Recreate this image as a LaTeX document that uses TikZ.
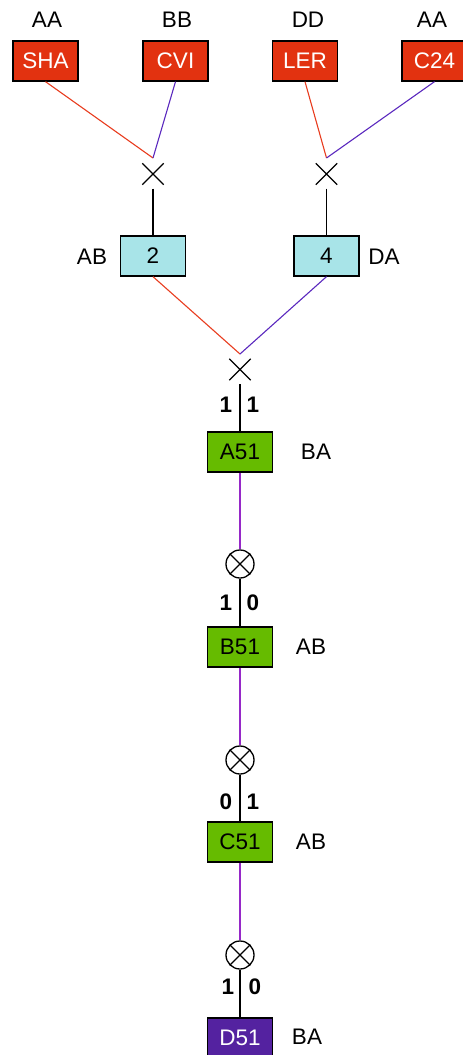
\documentclass[tikz,border=0pt]{standalone}
\usepackage{fontspec}
\setmainfont{Liberation Sans}
\definecolor{boxred}{RGB}{226,50,16}
\definecolor{boxcyan}{RGB}{168,228,232}
\definecolor{boxgreen}{RGB}{102,187,0}
\definecolor{boxpurple}{RGB}{84,34,160}
\definecolor{linered}{RGB}{232,60,30}
\definecolor{lineviolet}{RGB}{90,40,190}
\definecolor{linemag}{RGB}{150,40,200}
\begin{document}
\begin{tikzpicture}[x=1pt,y=-1pt,
  every node/.style={font=\fontsize{22.5}{26}\selectfont, inner sep=0pt},
  box/.style={draw=black, line width=1.3pt, minimum width=65pt, minimum height=40pt},
  redbox/.style={box, fill=boxred, text=white},
  cyanbox/.style={box, fill=boxcyan},
  greenbox/.style={box, fill=boxgreen},
  purplebox/.style={box, fill=boxpurple, text=white},
  lbl/.style={},
  num/.style={font=\fontsize{22.5}{26}\selectfont\bfseries},
  cross/.style={minimum size=21pt},
  otimes/.style={circle, draw, line width=1.3pt, minimum size=28pt},
  xmark/.style={draw=black, line width=1.4pt},
  rline/.style={draw=linered, line width=1.1pt},
  vline/.style={draw=lineviolet, line width=1.1pt},
  mline/.style={draw=linemag, line width=1.1pt},
  kline/.style={draw=black, line width=1.1pt}]
\useasboundingbox (0,0) rectangle (463,1055);
\clip (0,0) rectangle (463,1055);

% top boxes
\node[redbox] (sha) at (45.5,61) {SHA};
\node[redbox] (cvi) at (175.5,61) {CVI};
\node[redbox] (ler) at (305,61) {LER};
\node[redbox] (c24) at (434.5,61) {C24};
\node[lbl] (lsha) at (47,20) {AA};
\node[lbl] (lcvi) at (177,20) {BB};
\node[lbl] (ller) at (308,20) {DD};
\node[lbl] (lc24) at (432,20) {AA};

% first junctions
\coordinate (j1) at (153,158);
\coordinate (j2) at (326.5,158);
\node[cross] (x1) at (153,174) {};
\node[cross] (x2) at (326.5,174) {};
\foreach \n in {x1,x2} {
  \draw[xmark] (\n.north west) -- (\n.south east) (\n.north east) -- (\n.south west);
}
\draw[rline] (sha.south) -- (j1);
\draw[vline] (cvi.south) -- (j1);
\draw[rline] (ler.south) -- (j2);
\draw[vline] (c24.south) -- (j2);

% cyan boxes
\node[cyanbox] (b2) at (153,256) {2};
\node[cyanbox] (b4) at (326.5,256) {4};
\node[lbl] (lb2) at (92,257) {AB};
\node[lbl] (lb4) at (384,257) {DA};
\draw[kline] ([yshift=-4pt]x1.south) -- (b2.north);
\draw[kline] ([yshift=-4pt]x2.south) -- (b4.north);

% second junction
\coordinate (j3) at (240,354);
\node[cross] (x3) at (240,369.5) {};
\draw[xmark] (x3.north west) -- (x3.south east) (x3.north east) -- (x3.south west);
\draw[rline] (b2.south) -- (j3);
\draw[vline] (b4.south) -- (j3);

% chain
\node[greenbox] (a51) at (240,452) {A51};
\node[lbl] (la51) at (316,452) {BA};
\draw[kline] ([yshift=-4pt]x3.south) -- (a51.north);
\node[num] (n1a) at (226,405) {1};
\node[num] (n1b) at (253,405) {1};

\node[otimes] (o1) at (240,564) {};
\node[otimes] (o2) at (240,760) {};
\node[otimes] (o3) at (240,955) {};
\foreach \n in {o1,o2,o3} {
  \draw[xmark, line width=1.3pt] (\n.north west) -- (\n.south east) (\n.north east) -- (\n.south west);
}

\draw[mline] (a51.south) -- (o1.north);
\node[greenbox] (b51) at (240,647) {B51};
\node[lbl] (lb51) at (311,647) {AB};
\draw[kline] (o1.south) -- (b51.north);
\node[num] (n2a) at (226,603) {1};
\node[num] (n2b) at (253,603) {0};

\draw[mline] (b51.south) -- (o2.north);
\node[greenbox] (c51) at (240,842) {C51};
\node[lbl] (lc51) at (311,842) {AB};
\draw[kline] (o2.south) -- (c51.north);
\node[num] (n3a) at (226,802) {0};
\node[num] (n3b) at (253,802) {1};

\draw[mline] (c51.south) -- (o3.north);
\node[purplebox] (d51) at (240,1038) {D51};
\node[lbl] (ld51) at (307,1037) {BA};
\draw[kline] (o3.south) -- (d51.north);
\node[num] (n4a) at (228,987) {1};
\node[num] (n4b) at (255,987) {0};
\end{tikzpicture}
\end{document}
